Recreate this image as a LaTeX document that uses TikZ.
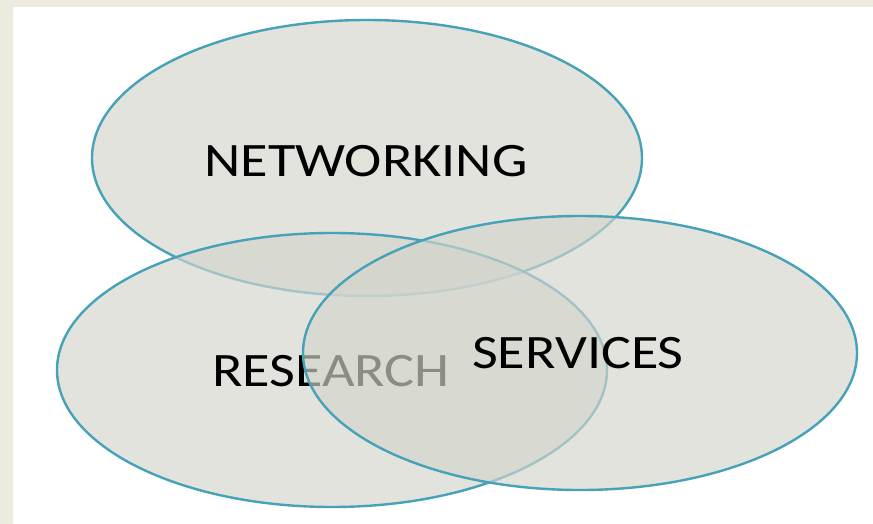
\documentclass[tikz,border=0pt]{standalone}
\usepackage{fontspec}
\setmainfont{Carlito}
\usetikzlibrary{shapes.geometric}
\definecolor{paper}{RGB}{237,234,224}
\definecolor{rim}{RGB}{70,162,184}
\definecolor{shade}{RGB}{211,213,204}

\begin{document}
\begin{tikzpicture}[x=1pt,y=-1pt,
	blob/.style={ellipse, draw=rim, line width=2.4pt, fill=shade, fill opacity=.66, inner sep=0pt},
	word/.style={font=\fontsize{48}{48}\selectfont, text=black, inner sep=0pt, xscale=1.17, transform shape}]
\fill[paper] (0,0) rectangle (873,524);
\fill[white] (13,7) rectangle (873,524);
\node[blob, minimum width=550pt, minimum height=276pt] (net) at (367,158) {};
\node[word] (netlbl) at (366,161) {NETWORKING};
\node[blob, minimum width=550pt, minimum height=274pt] (res) at (332,370) {};
\node[word] (reslbl) at (331,371) {RESEARCH};
\node[blob, minimum width=554pt, minimum height=274pt] (serv) at (580,353) {};
\node[word] (servlbl) at (578,353) {SERVICES};
\end{tikzpicture}
\end{document}
